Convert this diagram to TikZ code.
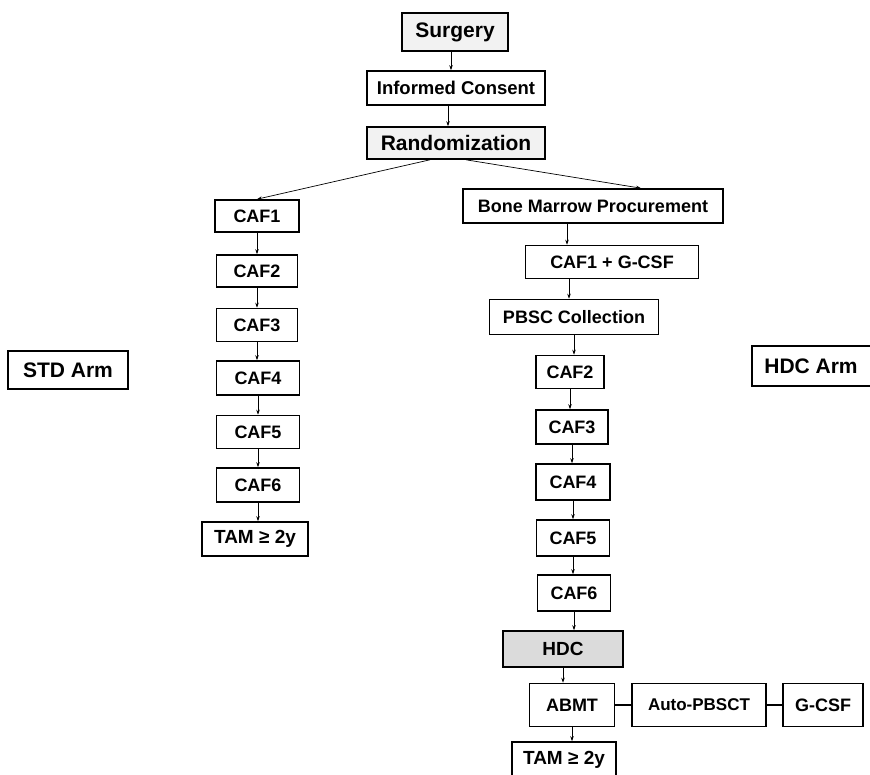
\documentclass[tikz,border=0pt]{standalone}
\usepackage{fontspec}
\setmainfont{Liberation Sans}
\usetikzlibrary{arrows.meta,calc}
\begin{document}
\begin{tikzpicture}[x=1pt,y=-1pt,
  box/.style={draw=black, line width=1.6pt, fill=white, font=\fontsize{18}{21}\selectfont\bfseries, inner sep=0pt, anchor=center},
  big/.style={font=\fontsize{21}{24}\selectfont\bfseries},
  shade1/.style={fill=gray!10},
  shade2/.style={fill=gray!28},
  arr/.style={line width=0.7pt, -{Stealth[length=5pt,width=3.5pt]}},
  link/.style={line width=1.2pt}]
\useasboundingbox (0,0) rectangle (870,775);
\fill[white] (0,0) rectangle (870,775);
% top
\node[box,big,shade1,minimum width=106,minimum height=38] (surg) at (455,32) {Surgery};
\node[box,font=\fontsize{18.5}{21}\selectfont\bfseries,minimum width=178,minimum height=34] (cons) at (456,88) {Informed Consent};
\node[box,big,shade1,minimum width=178,minimum height=32] (rand) at (456,143) {Randomization};
% left column
\node[box,minimum width=84,minimum height=32] (caf1L) at (257,216) {CAF1};
\node[box,minimum width=81,minimum height=32] (caf2L) at (257,271) {CAF2};
\node[box,minimum width=81,minimum height=33] (caf3L) at (257,325) {CAF3};
\node[box,minimum width=83,minimum height=34] (caf4L) at (258,378) {CAF4};
\node[box,minimum width=83,minimum height=33] (caf5L) at (258,432) {CAF5};
\node[box,minimum width=83,minimum height=34] (caf6L) at (258,485) {CAF6};
\node[box,font=\fontsize{19}{22}\selectfont\bfseries,minimum width=106,minimum height=34] (tamL) at (255,539) {TAM ≥ 2y};
% arm labels
\node[box,big,minimum width=120,minimum height=38] (std) at (68,370) {STD Arm};
\node[box,big,minimum width=124,minimum height=40] (hdcarm) at (814,366) {\hspace*{-6pt}HDC Arm};
% right column
\node[box,minimum width=260,minimum height=34] (bmp) at (593,206) {Bone Marrow Procurement};
\node[box,minimum width=173,minimum height=33] (cafg) at (612,262) {CAF1 + G-CSF};
\node[box,minimum width=169,minimum height=35] (pbsc) at (574,317) {PBSC Collection};
\node[box,minimum width=68,minimum height=33] (caf2R) at (570,372) {CAF2};
\node[box,minimum width=72,minimum height=34] (caf3R) at (572,427) {CAF3};
\node[box,minimum width=74,minimum height=36] (caf4R) at (573,482) {CAF4};
\node[box,minimum width=73,minimum height=36] (caf5R) at (573,538) {CAF5};
\node[box,minimum width=73,minimum height=36] (caf6R) at (574,593) {CAF6};
\node[box,shade2,font=\fontsize{19}{22}\selectfont\bfseries,minimum width=120,minimum height=36] (hdc) at (563,649) {HDC};
\node[box,minimum width=85,minimum height=43] (abmt) at (572,705) {ABMT};
\node[box,font=\fontsize{17}{20}\selectfont\bfseries,minimum width=134,minimum height=43] (apb) at (699,705) {Auto-PBSCT};
\node[box,minimum width=80,minimum height=43] (gcsf) at (823,705) {G-CSF};
\node[box,font=\fontsize{19}{22}\selectfont\bfseries,minimum width=104,minimum height=36] (tamR) at (564,760) {TAM ≥ 2y};
% connectors top
\draw[arr] ([xshift=-4pt]surg.south) -- ([xshift=-4pt]surg.south |- cons.north);
\draw[arr] ([xshift=-8pt]cons.south) -- ([xshift=-8pt]cons.south |- rand.north);
\coordinate (rl) at ($(rand.south)+(-26,0)$);
\coordinate (rr) at ($(rand.south)+(10,0)$);
\coordinate (bmpin) at ($(bmp.north)+(48,0)$);
\draw[arr] (rl) -- (caf1L.north);
\draw[arr] (rr) -- (bmpin);
% left chain
\foreach \a/\b in {caf1L/caf2L,caf2L/caf3L,caf3L/caf4L,caf4L/caf5L,caf5L/caf6L,caf6L/tamL}
  \draw[arr] (\a.south) -- (\a.south |- \b.north);
% right chain
\draw[arr] ([xshift=-26pt]bmp.south) -- ([xshift=-26pt]bmp.south |- cafg.north);
\draw[arr] ([xshift=-43pt]cafg.south) -- ([xshift=-43pt]cafg.south |- pbsc.north);
\draw[arr] (pbsc.south) -- (pbsc.south |- caf2R.north);
\foreach \a/\b in {caf2R/caf3R,caf3R/caf4R,caf4R/caf5R,caf5R/caf6R,caf6R/hdc}
  \draw[arr] (\a.south) -- (\a.south |- \b.north);
\draw[arr,line width=1pt] (hdc.south) -- (hdc.south |- abmt.north);
\draw[arr,line width=1pt] (abmt.south) -- (abmt.south |- tamR.north);
\draw[link] (abmt.east) -- (apb.west);
\draw[link] (apb.east) -- (gcsf.west);
\end{tikzpicture}
\end{document}
